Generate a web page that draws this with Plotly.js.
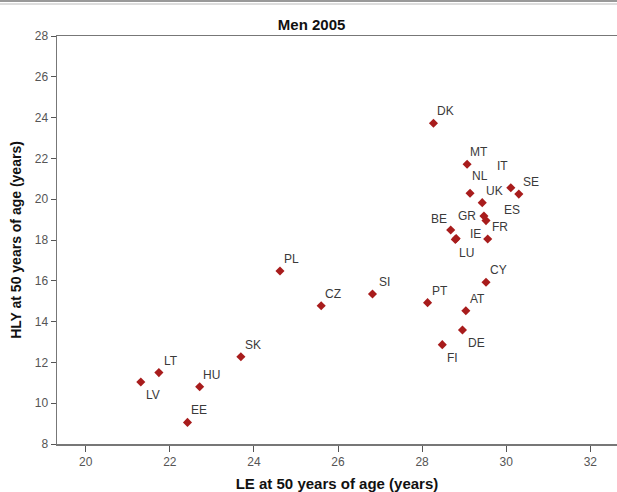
<!DOCTYPE html>
<html>
<head>
<meta charset="utf-8">
<script src="https://cdn.plot.ly/plotly-3.0.1.min.js"></script>
<style>html,body{margin:0;padding:0;background:#fff;}#chart{width:617px;height:492px;}</style>
</head>
<body>
<div id="chart"></div>
<script>
// Data
var countries = ["DK","MT","NL","UK","IT","SE","GR","ES","FR","BE","IE","LU","CY","PT","AT","DE","FI","PL","CZ","SI","SK","LT","LV","HU","EE"];
var leAt50 =   [28.27,29.07,29.14,29.43,30.11,30.30,29.47,29.52,29.56,28.68,28.81,28.79,29.52,28.13,29.04,28.96,28.48,24.62,25.60,26.82,23.69,21.74,21.31,22.71,22.42];
var hlyAt50 =  [23.72,21.71,20.29,19.83,20.56,20.25,19.18,18.95,18.05,18.49,18.07,18.03,15.93,14.93,14.53,13.59,12.87,16.48,14.78,15.35,12.28,11.50,11.04,10.81,9.06];
var xTicks = [20,22,24,26,28,30,32];
var yTicks = [8,10,12,14,16,18,20,22,24,26,28];

// label offsets (pixels) relative to each point
var labelDx = {NL:10, IT:-8, ES:26, GR:-17, BE:-12, IE:19, LU:11, DE:14, FI:10, LV:12};
var labelDy = {NL:-17, IT:-22, ES:-11, GR:0, BE:-11, IE:-5, LU:14, DE:13, FI:13, LV:13};

var annotations = countries.map(function(c, i){
  return {
    x: leAt50[i], y: hlyAt50[i], xref:'x', yref:'y', text: c, showarrow:false,
    xshift: (c in labelDx) ? labelDx[c] : 12,
    yshift: -((c in labelDy) ? labelDy[c] : -12),
    font:{family:'Liberation Sans, Arial, sans-serif', size:12, color:'#3a3a3a'}
  };
});

var trace = {
  x: leAt50, y: hlyAt50, mode:'markers', type:'scatter', text: countries,
  marker:{symbol:'diamond', size:7, color:'#a81c1c', line:{width:0}},
  hoverinfo:'text'
};

var layout = {
  width:617, height:492,
  margin:{l:57, r:0, t:36, b:48, pad:0},
  paper_bgcolor:'#fff', plot_bgcolor:'#fff',
  showlegend:false,
  title:{text:'<b>Men 2005</b>', x:0.505, xref:'container', y:0.950, yref:'container', yanchor:'middle',
         font:{family:'Liberation Sans, Arial, sans-serif', size:15, color:'#111'}},
  xaxis:{
    range:[19.317, 32.635], tickvals:xTicks, ticktext:xTicks.map(String),
    showgrid:false, zeroline:false, showline:true, linecolor:'#777', linewidth:1.5, mirror:true,
    ticks:'outside', ticklen:6, tickcolor:'#555', tickwidth:1,
    tickfont:{family:'Liberation Sans, Arial, sans-serif', size:12, color:'#555'},
    title:{text:'<b>LE at 50 years of age (years)</b>', standoff:13,
           font:{family:'Liberation Sans, Arial, sans-serif', size:15, color:'#111'}}
  },
  yaxis:{
    range:[8, 28], tickvals:yTicks, ticktext:yTicks.map(String),
    showgrid:false, zeroline:false, showline:true, linecolor:'#777', linewidth:1.5,
    ticks:'outside', ticklen:5, tickcolor:'#555', tickwidth:1,
    tickfont:{family:'Liberation Sans, Arial, sans-serif', size:12, color:'#555'},
    title:{text:'<b>HLY at 50 years of age (years)</b>', standoff:10,
           font:{family:'Liberation Sans, Arial, sans-serif', size:14, color:'#111'}}
  },
  annotations: annotations,
  shapes:[
    {type:'line', xref:'paper', yref:'paper', x0:-0.11, x1:1, y0:1.0858, y1:1.0858, line:{color:'#999', width:2}},
    {type:'line', xref:'paper', yref:'paper', x0:-0.11, x1:1, y0:1.0784, y1:1.0784, line:{color:'#bbb', width:1}}
  ]
};

Plotly.newPlot('chart', [trace], layout, {displayModeBar:false, staticPlot:true});
</script>
</body>
</html>
